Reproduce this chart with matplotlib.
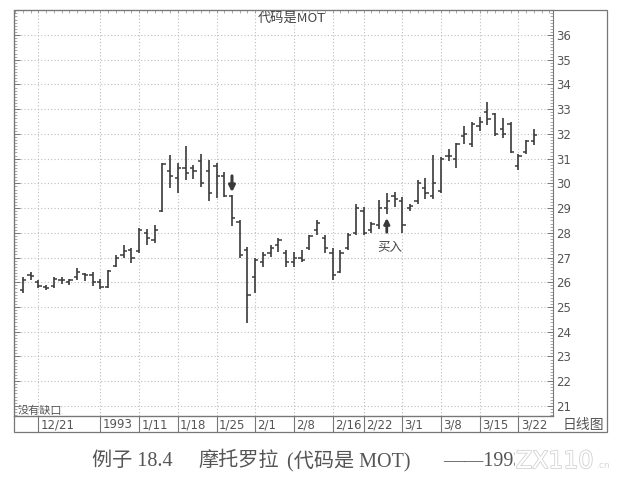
import numpy as np
import pandas as pd
import matplotlib
matplotlib.use('Agg')
import matplotlib.pyplot as plt
import matplotlib.transforms as mtransforms
import matplotlib.patheffects as pe
from matplotlib.patches import Rectangle
from matplotlib.lines import Line2D
from matplotlib import font_manager

# MOT daily bars, 12/17/1992 - 3/24/1993
highs = [26.2, 26.43, 26.1, 25.9, 26.2, 26.22, 26.13, 26.56, 26.39, 26.43,
         26.15, 26.5, 27.12, 27.5, 27.37, 28.18, 28.15, 28.3, 30.81, 31.15,
         30.81, 31.49, 30.74, 31.19, 30.95, 30.81, 30.47, 29.53, 28.52, 27.44,
         26.97, 27.24, 27.5, 27.8, 27.3, 27.23, 27.3, 27.9, 28.5, 27.9,
         27.37, 27.3, 27.98, 29.15, 29.05, 28.42, 29.32, 29.59, 29.64, 29.45,
         29.15, 30.12, 30.2, 31.15, 31.08, 31.37, 31.65, 32.3, 32.5, 32.7,
         33.28, 32.83, 32.63, 32.48, 31.2, 31.75, 32.18]
lows = [25.55, 26.1, 25.75, 25.67, 25.75, 25.93, 25.89, 26.1, 26.06, 25.85,
        25.72, 25.75, 26.6, 26.97, 26.77, 27.2, 27.5, 27.6, 28.86, 29.8,
        29.6, 30.14, 30.16, 29.87, 29.3, 29.4, 29.46, 28.28, 26.97, 24.37,
        25.58, 26.63, 27.03, 27.23, 26.63, 26.63, 26.83, 27.3, 27.9, 27.17,
        26.09, 26.36, 27.3, 27.9, 27.9, 28.0, 28.15, 28.75, 29.05, 27.98,
        28.9, 29.18, 29.38, 29.35, 29.6, 30.9, 30.6, 31.58, 31.48, 32.12,
        32.36, 31.9, 31.82, 31.22, 30.55, 31.2, 31.55]
opens = [25.7, 26.3, 26.0, 25.8, 25.85, 26.1, 26.0, 26.2, 26.35, 26.3,
         26.0, 25.8, 26.65, 27.1, 27.3, 27.25, 28.0, 27.7, 28.9, 30.5,
         30.2, 30.6, 30.6, 30.9, 30.5, 30.7, 30.3, 29.5, 28.45, 27.3,
         26.2, 26.8, 27.2, 27.5, 27.2, 26.8, 27.0, 27.4, 28.1, 27.8,
         27.2, 26.4, 27.4, 28.0, 28.9, 28.1, 28.3, 29.0, 29.5, 29.3,
         29.0, 29.3, 29.8, 29.5, 29.7, 31.1, 31.0, 31.9, 31.6, 32.3,
         32.9, 32.8, 32.2, 32.4, 30.7, 31.25, 31.7]
closes = [26.1, 26.25, 25.85, 25.75, 26.15, 26.1, 26.1, 26.4, 26.3, 26.0,
          25.8, 26.45, 27.0, 27.25, 27.0, 28.1, 27.8, 28.1, 30.8, 30.3,
          30.6, 30.4, 30.5, 30.0, 29.6, 30.3, 29.5, 28.6, 27.1, 25.5,
          26.9, 27.1, 27.4, 27.7, 26.8, 27.0, 26.9, 27.85, 28.4, 27.4,
          26.3, 27.2, 27.9, 29.0, 28.0, 28.35, 29.0, 29.3, 29.35, 28.3,
          29.1, 30.0, 29.6, 30.0, 31.0, 31.1, 31.6, 32.0, 32.4, 32.5,
          32.6, 32.0, 32.0, 31.25, 31.1, 31.7, 31.95]

holidays = ['1992-12-25', '1993-01-01', '1993-02-15']
label_dates = ['1992-12-21', '1993-01-04', '1993-01-11', '1993-01-18', '1993-01-25',
               '1993-02-01', '1993-02-08', '1993-02-16', '1993-02-22', '1993-03-01',
               '1993-03-08', '1993-03-15', '1993-03-22']
label_text = ['12/21', '1993', '1/11', '1/18', '1/25', '2/1', '2/8', '2/16',
              '2/22', '3/1', '3/8', '3/15', '3/22']
price_ticks = list(range(21, 37))
caption_parts = ['例子 18.4', '摩托罗拉', '(代码是 MOT)', '——1993']

dates = pd.bdate_range('1992-12-17', '1993-03-24')
dates = dates[~dates.isin(pd.to_datetime(holidays))]
day_idx = {d: i for i, d in enumerate(dates)}
label_pos = [day_idx[pd.Timestamp(d)] for d in label_dates]

names = {f.name for f in font_manager.fontManager.ttflist}
num_font = 'Liberation Sans Narrow' if 'Liberation Sans Narrow' in names else 'DejaVu Sans'
num_size = 10.5 if num_font == 'Liberation Sans Narrow' else 8.5
cjk = ['Noto Sans CJK SC', 'DejaVu Sans']
serif_cjk = ['Liberation Serif', 'Noto Sans CJK SC']

W, H = 634, 479
fig = plt.figure(figsize=(W / 100, H / 100), dpi=100)
fig.patch.set_facecolor('white')


def fx(x):
    return x / W


def fy(y):
    return 1 - y / H


# plot area in pixel coordinates of the reference
L, R, T, B = 14, 553, 10, 416
ax = fig.add_axes([fx(L), fy(B), fx(R - L), (B - T) / H])

x0 = 23
step = 7.74
ax.set_xlim((L - x0) / step, (R - x0) / step)
ax.set_ylim(20.59, 37.01)

ink = '#3a3a3a'
tw = 0.42
for i in range(len(dates)):
    ax.plot([i, i], [lows[i], highs[i]], color=ink, lw=1.2, solid_capstyle='butt')
    ax.plot([i - tw, i], [opens[i], opens[i]], color=ink, lw=1.1, solid_capstyle='butt')
    ax.plot([i, i + tw], [closes[i], closes[i]], color=ink, lw=1.1, solid_capstyle='butt')

# dotted grid
for p in price_ticks:
    ax.axhline(p, color='#bdbdbd', lw=0.8, ls=(0, (1, 2)), zorder=0)
for pos in label_pos:
    ax.axvline(pos, color='#bdbdbd', lw=0.8, ls=(0, (1, 2)), zorder=0)

ax.yaxis.tick_right()
ax.set_yticks(price_ticks)
ax.set_yticklabels([str(p) for p in price_ticks], fontfamily=num_font,
                   fontsize=num_size, color='#555555')
ax.set_yticks(np.arange(20.625, 37.0, 0.125), minor=True)
ax.tick_params(axis='y', which='major', direction='in', length=4, width=0.7,
               left=True, right=True, color='#777777', pad=2)
ax.tick_params(axis='y', which='minor', direction='in', length=2, width=0.5,
               left=True, right=True, color='#888888')
ax.set_xticks([])
ax.set_xticks(range(-1, 69), minor=True)
ax.tick_params(axis='x', which='minor', direction='in', length=2, width=0.5,
               top=True, bottom=False, color='#888888')
for s in ax.spines.values():
    s.set_color('#777777')
    s.set_linewidth(0.8)

# annotations
d_sell = 27
d_buy = 47
ax.annotate('', xy=(d_sell, 29.64), xytext=(d_sell, 30.3),
            arrowprops=dict(arrowstyle='-|>', lw=2.2, color=ink, mutation_scale=9,
                            shrinkA=0, shrinkB=0))
ax.annotate('', xy=(d_buy, 28.6), xytext=(d_buy, 28.02),
            arrowprops=dict(arrowstyle='-|>', lw=2.0, color=ink, mutation_scale=8,
                            shrinkA=0, shrinkB=0))
ax.text(d_buy + 0.4, 27.42, '买入', family=cjk, fontsize=9, color='#444444',
        ha='center', va='center')
ax.text(-0.75, 20.78, '没有缺口', family=cjk, fontsize=8, color='#555555',
        ha='left', va='center')
fig.text(fx(292), fy(18), '代码是MOT', family=cjk, fontsize=9.5, color='#444444',
         ha='center', va='center')

# outer frame and date band
fig.add_artist(Rectangle((fx(L), fy(432)), fx(607 - L), (432 - T) / H,
                         transform=fig.transFigure, fill=False,
                         edgecolor='#777777', lw=0.9))
fig.add_artist(Line2D([fx(L), fx(R)], [fy(B), fy(B)], transform=fig.transFigure,
                      color='#777777', lw=0.9))
band = mtransforms.blended_transform_factory(ax.transData, fig.transFigure)
for pos, txt in zip(label_pos, label_text):
    fig.add_artist(Line2D([pos, pos], [fy(B), fy(432)], transform=band,
                          color='#777777', lw=0.8))
    fig.text(pos + 0.3, fy(424.5), txt, transform=band, fontfamily=num_font,
             fontsize=num_size, color='#555555', ha='left', va='center')
fig.text(fx(583), fy(424.5), '日线图', family=cjk, fontsize=10, color='#555555',
         ha='center', va='center')

# caption and watermark
for txt, x in zip(caption_parts, [92, 198, 287, 443]):
    fig.text(fx(x), fy(461), txt, family=serif_cjk, fontsize=14.5,
             color='#555555', ha='left', va='center')
fig.text(fx(516), fy(461), 'ZX110', family='DejaVu Sans', fontsize=17,
         color='white', ha='left', va='center', zorder=5,
         bbox=dict(facecolor='white', edgecolor='none', pad=0.5),
         path_effects=[pe.Stroke(linewidth=1.2, foreground='#d2d2d2'), pe.Normal()])
fig.text(fx(596), fy(465), '.cn', family='DejaVu Sans', fontsize=6.5,
         color='#d8d8d8', ha='left', va='center', zorder=5)

fig.savefig('out.png', dpi=100, facecolor='white')
